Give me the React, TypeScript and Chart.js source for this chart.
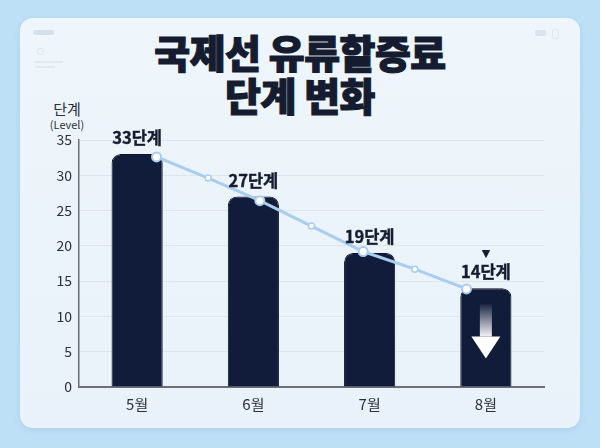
import React, { useEffect, useRef } from 'react';
import { Chart, registerables } from 'chart.js';

Chart.register(...registerables);

const categories = ['5월', '6월', '7월', '8월'];
const levels = [33, 27, 19, 14];
const levelLabels = ['33단계', '27단계', '19단계', '14단계'];
const trendX = [0, 0.5, 1, 1.5, 2, 2.5, 3];
const trendY = [32.6, 29.6, 26.4, 22.8, 19.2, 16.7, 13.9];
const yMax = 35;
const yStep = 5;
const titleLines = ['국제선 유류할증료', '단계 변화'];
const yAxisTitle = ['단계', '(Level)'];
const highlightIndex = 3;

const FONT = '"Noto Sans CJK KR", "Noto Sans", sans-serif';
const NAVY = '#111c3a';
const INK = '#151c30';
const LINE_BLUE = '#a9cdee';

const annotatePlugin = {
  id: 'annotate',
  afterDatasetsDraw(chart: any) {
    const ctx = chart.ctx as CanvasRenderingContext2D;
    const meta = chart.getDatasetMeta(0);
    ctx.save();
    meta.data.forEach((bar: any, i: number) => {
      const top = bar.y;
      const base = bar.base;
      const x = bar.x;
      if (i === highlightIndex) {
        const stemTop = top + 16;
        const headTop = base - 50;
        const tip = base - 28;
        const g = ctx.createLinearGradient(0, stemTop, 0, headTop);
        g.addColorStop(0, 'rgba(255,255,255,0.05)');
        g.addColorStop(1, 'rgba(255,255,255,0.95)');
        ctx.fillStyle = g;
        ctx.fillRect(x - 6, stemTop, 12, headTop - stemTop);
        ctx.fillStyle = '#ffffff';
        ctx.beginPath();
        ctx.moveTo(x - 14.5, headTop);
        ctx.lineTo(x + 14.5, headTop);
        ctx.lineTo(x, tip);
        ctx.closePath();
        ctx.fill();
      }
    });
    meta.data.forEach((bar: any, i: number) => {
      const x = bar.x;
      const ly = bar.y - 16;
      ctx.fillStyle = INK;
      ctx.strokeStyle = INK;
      ctx.lineWidth = 0.4;
      ctx.font = `bold 16.5px ${FONT}`;
      ctx.textAlign = 'center';
      ctx.textBaseline = 'middle';
      ctx.fillText(levelLabels[i], x, ly);
      ctx.strokeText(levelLabels[i], x, ly);
      if (i === highlightIndex) {
        ctx.font = `11px "DejaVu Sans", sans-serif`;
        ctx.fillText('▼', x, ly - 18);
      }
    });
    ctx.restore();
  },
};

export default function App() {
  const ref = useRef<HTMLCanvasElement | null>(null);

  useEffect(() => {
    document.body.style.margin = '0';
    const canvas = ref.current;
    if (!canvas) return;
    Chart.defaults.font.family = FONT;
    const chart = new Chart(canvas, {
      type: 'bar',
      data: {
        labels: categories,
        datasets: [
          {
            type: 'bar',
            label: '단계',
            data: levels,
            backgroundColor: NAVY,
            borderColor: '#0a1328',
            borderWidth: 1,
            borderRadius: { topLeft: 9, topRight: 9, bottomLeft: 0, bottomRight: 0 },
            borderSkipped: 'bottom',
            grouped: false,
            categoryPercentage: 1,
            barPercentage: 0.44,
            order: 2,
            xAxisID: 'x',
          },
          {
            type: 'line',
            label: '추세',
            data: trendX.map((x, i) => ({ x, y: trendY[i] })),
            xAxisID: 'x2',
            borderColor: LINE_BLUE,
            borderWidth: 3,
            pointBackgroundColor: '#ffffff',
            pointBorderColor: LINE_BLUE,
            pointBorderWidth: trendX.map((x) => (Number.isInteger(x) ? 2 : 1.5)),
            pointRadius: trendX.map((x) => (Number.isInteger(x) ? 4.5 : 3)),
            tension: 0,
            order: 1,
          } as any,
        ],
      },
      options: {
        animation: false,
        responsive: false,
        layout: { padding: { left: 0, right: 56, top: 140, bottom: 0 } },
        plugins: {
          legend: { display: false },
          tooltip: { enabled: false },
          title: { display: false },
        },
        scales: {
          x: {
            type: 'category',
            offset: true,
            grid: { display: false, drawTicks: false },
            border: { display: true, color: '#6b6f78', width: 2 },
            ticks: { color: '#2b2f38', font: { size: 15, family: FONT }, padding: 8 },
            afterFit: (s: any) => {
              s.height = 61;
            },
          },
          x2: {
            type: 'linear',
            display: false,
            min: -0.5,
            max: 3.5,
          },
          y: {
            min: 0,
            max: yMax,
            ticks: {
              stepSize: yStep,
              color: '#2b2f38',
              font: { size: 14, family: FONT },
              padding: 7,
            },
            grid: { color: '#dfe5ec', lineWidth: 1, drawTicks: false },
            border: { display: true, color: '#6b6f78', width: 1.5 },
            afterFit: (s: any) => {
              s.width = 79;
            },
          },
        },
      } as any,
      plugins: [annotatePlugin],
    });
    return () => chart.destroy();
  }, []);

  return (
    <div
      style={{
        position: 'fixed',
        left: 0,
        top: 0,
        width: 600,
        height: 448,
        background: '#bde0f6',
        overflow: 'hidden',
        fontFamily: FONT,
      }}
    >
      <div
        style={{
          position: 'absolute',
          left: 20,
          top: 18,
          width: 560,
          height: 410,
          borderRadius: 13,
          background: 'linear-gradient(180deg, #eef5fb 0%, #e9f2fa 100%)',
          boxShadow: '0 2px 6px rgba(90,140,180,0.18)',
        }}
      >
        <div style={{ position: 'absolute', left: 13, top: 12, width: 21, height: 5, borderRadius: 3, background: '#d3e1ee' }} />
        <div style={{ position: 'absolute', left: 17, top: 30, width: 5, height: 5, borderRadius: 3, border: '1px solid #dbe6f0' }} />
        <div style={{ position: 'absolute', left: 15, top: 43, width: 28, height: 2, background: '#e0eaf3' }} />
        <div style={{ position: 'absolute', left: 15, top: 48, width: 20, height: 2, background: '#e0eaf3' }} />
        <div style={{ position: 'absolute', left: 515, top: 12, width: 11, height: 6, borderRadius: 2, background: '#d8e5f1' }} />
        <div style={{ position: 'absolute', left: 532, top: 11, width: 5, height: 8, borderRadius: 2, border: '1px solid #dde8f2' }} />
      </div>
      <div
        style={{
          position: 'absolute',
          left: 0,
          top: 30,
          width: 600,
          textAlign: 'center',
          fontSize: 39,
          fontWeight: 900,
          lineHeight: '43px',
          color: INK,
          letterSpacing: -0.5,
          WebkitTextStroke: '1.2px ' + INK,
        }}
      >
        {titleLines.map((t) => (
          <div key={t}>{t}</div>
        ))}
      </div>
      <div
        style={{
          position: 'absolute',
          left: 37,
          top: 99,
          width: 60,
          textAlign: 'center',
          color: '#2b2f38',
        }}
      >
        <div style={{ fontSize: 15, lineHeight: '19px' }}>{yAxisTitle[0]}</div>
        <div style={{ fontSize: 11, lineHeight: '13px' }}>{yAxisTitle[1]}</div>
      </div>
      <canvas
        ref={ref}
        width={600}
        height={448}
        style={{ position: 'absolute', left: 0, top: 0, width: 600, height: 448 }}
      />
    </div>
  );
}
